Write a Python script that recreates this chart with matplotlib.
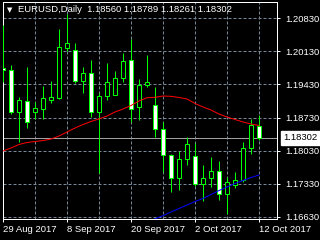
import matplotlib
matplotlib.use("Agg")
import matplotlib.pyplot as plt
import matplotlib.transforms as mtransforms
from matplotlib.patches import Rectangle

plt.rcParams.update({"font.family": ["Liberation Sans", "DejaVu Sans"], "font.size": 6.8})

# daily EURUSD candles, 29 Aug 2017 .. 12 Oct 2017
opens = [1.19778, 1.19729, 1.18840, 1.19080, 1.18840, 1.18910, 1.19094, 1.19149, 1.20191,
         1.20153, 1.19509, 1.19672, 1.18847, 1.19185, 1.19200, 1.19560, 1.19937, 1.18946,
         1.19408, 1.18995, 1.18480, 1.17930, 1.17443, 1.17846, 1.17905, 1.17316, 1.17443,
         1.17598, 1.17105, 1.17302, 1.17407, 1.18078, 1.18560]
highs = [1.20688, 1.19842, 1.19158, 1.19793, 1.19052, 1.19403, 1.19503, 1.20604, 1.20921,
         1.20314, 1.19793, 1.19941, 1.19249, 1.19890, 1.19708, 1.20089, 1.20386, 1.19539,
         1.20053, 1.19370, 1.18629, 1.17951, 1.18028, 1.18324, 1.18184, 1.17725, 1.17888,
         1.17810, 1.17477, 1.17570, 1.18218, 1.18699, 1.18789]
lows = [1.19482, 1.18804, 1.18218, 1.18502, 1.18699, 1.18699, 1.19031, 1.19122, 1.20144,
        1.19467, 1.19255, 1.18735, 1.17556, 1.19101, 1.19200, 1.19488, 1.18641, 1.18677,
        1.19376, 1.18311, 1.17570, 1.17160, 1.17196, 1.17725, 1.17290, 1.16969, 1.17253,
        1.16984, 1.16681, 1.17232, 1.17371, 1.17951, 1.18261]
closes = [1.19736, 1.18840, 1.19101, 1.18629, 1.18925, 1.19137, 1.19158, 1.20216, 1.20301,
          1.19509, 1.19672, 1.18847, 1.19179, 1.19475, 1.19560, 1.19933, 1.18910, 1.19418,
          1.19475, 1.18480, 1.17930, 1.17443, 1.17846, 1.18163, 1.17316, 1.17443, 1.17598,
          1.17105, 1.17359, 1.17407, 1.18078, 1.18571, 1.18302]

# red indicator, one value per bar
red_line = [1.18021, 1.18085, 1.18159, 1.18201, 1.18222, 1.18243, 1.18275, 1.18339, 1.18423,
            1.18508, 1.18582, 1.18646, 1.18699, 1.18762, 1.18847, 1.18910, 1.18984, 1.19080,
            1.19149, 1.19158, 1.19185, 1.19179, 1.19154, 1.19122, 1.19027, 1.18953, 1.18889,
            1.18804, 1.18741, 1.18688, 1.18635, 1.18593, 1.18561]
# blue indicator, from bar 18 on
blue_start = 18
blue_line = [1.16518, 1.16586, 1.16652, 1.16730, 1.16804, 1.16878, 1.16952, 1.17016, 1.17100,
             1.17185, 1.17259, 1.17333, 1.17397, 1.17460, 1.17513]

price_ticks = [1.20830, 1.20130, 1.19430, 1.18730, 1.18030, 1.17330, 1.16630]
date_pos = [0, 8, 16, 24, 32]
date_labels = ["29 Aug 2017", "8 Sep 2017", "20 Sep 2017", "2 Oct 2017", "12 Oct 2017"]
last_price = 1.18302

LIME = "#00ff00"
GRID = "#778899"
PX = 0.72  # one pixel in points at 100 dpi

fig = plt.figure(figsize=(3.2, 2.4), dpi=100, facecolor="black")
ax = fig.add_axes([3 / 320, 21 / 240, 274 / 320, 217 / 240])
ax.set_facecolor("black")
ax.set_xlim(0, 34.25)
ax.set_ylim(1.16582, 1.21175)

# grid
for p in price_ticks:
    ax.axhline(p, color=GRID, lw=PX, ls=(0, (3, 2)), zorder=1)
for b in range(4, 33, 4):
    ax.axvline(b, color=GRID, lw=PX, ls=(0, (3, 2)), zorder=1)

ax.axhline(last_price, color="#a0a0a0", lw=PX, zorder=2)

# candles
for i, (o, h, l, c) in enumerate(zip(opens, highs, lows, closes)):
    ax.vlines(i, l, h, color=LIME, lw=PX, zorder=3)
    fill = "black" if c > o else "white"
    ax.add_patch(Rectangle((i - 0.28, min(o, c)), 0.56, max(abs(c - o), 0.00005),
                           facecolor=fill, edgecolor=LIME, lw=PX, zorder=4))

ax.plot(range(len(red_line)), red_line, color="red", lw=PX, zorder=5)
ax.plot(range(blue_start, blue_start + len(blue_line)), blue_line, color="blue", lw=PX, zorder=5)

for s in ax.spines.values():
    s.set_color("white")
    s.set_linewidth(PX)

ax.yaxis.tick_right()
ax.set_yticks(price_ticks)
ax.set_yticklabels([f"{p:.5f}" for p in price_ticks])
ax.set_xticks(date_pos)
ax.set_xticklabels(date_labels, ha="left")
ax.tick_params(colors="white", length=3 * PX, width=PX, labelsize=6.8)
ax.tick_params(axis="y", pad=4)
ax.tick_params(axis="x", pad=2)

# header
fig.text(7 / 320, 1 - 10 / 240, "\u25bc", color="white", fontsize=5, va="center",
         family="DejaVu Sans")
fig.text(18 / 320, 1 - 10 / 240, "EURUSD,Daily  " + " ".join(
    f"{v:.5f}" for v in (opens[-1], highs[-1], lows[-1], closes[-1])),
    color="white", va="center")

# current price tag
tr = mtransforms.blended_transform_factory(ax.transAxes, ax.transData)
ax.text(1 + 6 / 274, last_price, f"{last_price:.5f}", transform=tr, color="black",
        va="center", ha="left", clip_on=False,
        bbox=dict(boxstyle="square,pad=0.25", facecolor="white", edgecolor="white"))

fig.savefig("out.png", dpi=100, facecolor="black")
